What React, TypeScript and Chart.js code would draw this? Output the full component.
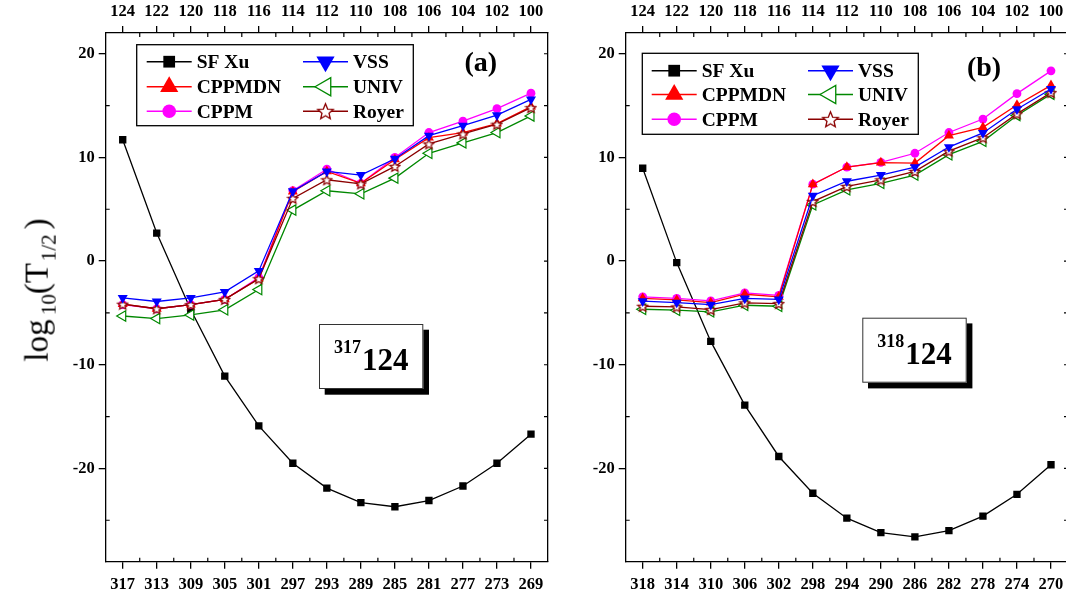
import React, { useEffect, useRef } from 'react';
import { Chart, registerables } from 'chart.js';

Chart.register(...registerables);

// ---------- data ----------
const bottomLabelsA = ['317', '313', '309', '305', '301', '297', '293', '289', '285', '281', '277', '273', '269'];
const bottomLabelsB = ['318', '314', '310', '306', '302', '298', '294', '290', '286', '282', '278', '274', '270'];
const topLabels = ['124', '122', '120', '118', '116', '114', '112', '110', '108', '106', '104', '102', '100'];
const yTickValues = [-20, -10, 0, 10, 20];
const yMinorValues = [-25, -15, -5, 5, 15];
const Y_MIN = -29;
const Y_MAX = 22;

// panel (a): 317124
const sfXuA = [11.7, 2.7, -4.7, -11.1, -15.9, -19.5, -21.9, -23.3, -23.7, -23.1, -21.7, -19.5, -16.7];
const cppmdnA = [-4.16, -4.6, -4.2, -3.7, -1.7, 6.7, 8.65, 7.5, 9.8, 11.9, 12.4, 13.26, 14.9];
const cppmA = [-4.2, -4.6, -4.2, -3.7, -1.6, 6.8, 8.87, 7.5, 10.0, 12.4, 13.5, 14.7, 16.2];
const vssA = [-3.55, -3.9, -3.55, -2.97, -0.95, 6.75, 8.65, 8.3, 9.87, 12.1, 13.07, 14.07, 15.6];
const univA = [-5.3, -5.55, -5.2, -4.7, -2.75, 4.92, 6.78, 6.49, 8.0, 10.4, 11.4, 12.4, 14.0];
const royerA = [-4.16, -4.6, -4.2, -3.7, -1.7, 6.05, 7.84, 7.45, 9.13, 11.3, 12.26, 13.2, 14.8];

// panel (b): 318124
const sfXuB = [8.95, -0.15, -7.75, -13.9, -18.85, -22.4, -24.8, -26.2, -26.6, -26.0, -24.6, -22.5, -19.65];
const cppmdnB = [-3.6, -3.75, -4.0, -3.2, -3.45, 7.4, 9.07, 9.5, 9.45, 12.1, 12.9, 15.05, 16.95];
const cppmB = [-3.45, -3.6, -3.84, -3.07, -3.3, 7.42, 9.07, 9.52, 10.4, 12.4, 13.7, 16.15, 18.35];
const vssB = [-3.87, -4.0, -4.2, -3.6, -3.7, 6.3, 7.7, 8.3, 9.07, 11.0, 12.36, 14.65, 16.6];
const univB = [-4.65, -4.74, -4.9, -4.26, -4.36, 5.42, 6.87, 7.5, 8.3, 10.26, 11.55, 14.05, 16.1];
const royerB = [-4.36, -4.42, -4.68, -4.03, -4.1, 5.74, 7.2, 7.84, 8.65, 10.6, 11.9, 14.2, 16.25];

// ---------- styles ----------
const FONT = "'Liberation Serif', 'Times New Roman', Times, serif";
const COLORS = {
  sf: '#000000',
  cppmdn: '#ff0000',
  cppm: '#ff00ff',
  vss: '#0000ff',
  univ: '#008800',
  royer: '#8b0000',
};

function makeStar(size: number, color: string, lw: number) {
  const c = document.createElement('canvas');
  c.width = size;
  c.height = size;
  const ctx = c.getContext('2d')!;
  const cx = size / 2;
  const cy = size / 2 + size * 0.04;
  const R = size / 2 - lw;
  const r = R * 0.45;
  ctx.beginPath();
  for (let i = 0; i < 10; i++) {
    const a = -Math.PI / 2 + (i * Math.PI) / 5;
    const rr = i % 2 === 0 ? R : r;
    ctx.lineTo(cx + rr * Math.cos(a), cy + rr * Math.sin(a));
  }
  ctx.closePath();
  ctx.fillStyle = '#ffffff';
  ctx.fill();
  ctx.strokeStyle = color;
  ctx.lineWidth = lw;
  ctx.stroke();
  return c;
}

type Series = {
  key: string;
  label: string;
  data: number[];
  color: string;
  style: string;
  rotation: number;
  radius: number;
  legendRadius: number;
  filled: boolean;
  order: number;
};

function buildSeries(sf: number[], cppmdn: number[], cppm: number[], vss: number[], univ: number[], royer: number[]): Series[] {
  return [
    { key: 'sf', label: 'SF Xu', data: sf, color: COLORS.sf, style: 'rect', rotation: 0, radius: 5.2, legendRadius: 8.3, filled: true, order: 6 },
    { key: 'cppmdn', label: 'CPPMDN', data: cppmdn, color: COLORS.cppmdn, style: 'triangle', rotation: 0, radius: 5.8, legendRadius: 10.5, filled: true, order: 3 },
    { key: 'cppm', label: 'CPPM', data: cppm, color: COLORS.cppm, style: 'circle', rotation: 0, radius: 4.4, legendRadius: 6.8, filled: true, order: 4 },
    { key: 'vss', label: 'VSS', data: vss, color: COLORS.vss, style: 'triangle', rotation: 180, radius: 5.8, legendRadius: 10.5, filled: true, order: 1 },
    { key: 'univ', label: 'UNIV', data: univ, color: COLORS.univ, style: 'triangle', rotation: 270, radius: 6, legendRadius: 10.5, filled: false, order: 5 },
    { key: 'royer', label: 'Royer', data: royer, color: COLORS.royer, style: 'star', rotation: 0, radius: 6, legendRadius: 8, filled: false, order: 2 },
  ];
}

const seriesA = buildSeries(sfXuA, cppmdnA, cppmA, vssA, univA, royerA);
const seriesB = buildSeries(sfXuB, cppmdnB, cppmB, vssB, univB, royerB);

function drawMarker(ctx: CanvasRenderingContext2D, s: Series, x: number, y: number, r: number, starImg: HTMLCanvasElement) {
  ctx.save();
  if (s.style === 'star') {
    ctx.drawImage(starImg, x - starImg.width / 2, y - starImg.height / 2);
    ctx.restore();
    return;
  }
  ctx.beginPath();
  if (s.style === 'rect') {
    const h = r * Math.SQRT1_2;
    ctx.rect(x - h, y - h, 2 * h, 2 * h);
  } else if (s.style === 'circle') {
    ctx.arc(x, y, r, 0, Math.PI * 2);
  } else {
    let rad = (s.rotation * Math.PI) / 180;
    for (let i = 0; i < 3; i++) {
      const px = x + Math.sin(rad) * r;
      const py = y - Math.cos(rad) * r;
      if (i === 0) ctx.moveTo(px, py);
      else ctx.lineTo(px, py);
      rad += (2 * Math.PI) / 3;
    }
    ctx.closePath();
  }
  if (s.filled) {
    ctx.fillStyle = s.color;
    ctx.fill();
  } else {
    ctx.fillStyle = '#ffffff';
    ctx.fill();
    ctx.strokeStyle = s.color;
    ctx.lineWidth = 1.3;
    ctx.stroke();
  }
  ctx.restore();
}

type Decor = {
  legendBox: [number, number, number, number];
  rows: number[];
  cols: { x0: number; x1: number; tx: number }[];
  panelLabel: { text: string; x: number; y: number };
  inset: { x: number; y: number; w: number; h: number; sup: string; main: string };
};

const decorA: Decor = {
  legendBox: [136.7, 44.7, 276.6, 81],
  rows: [61.7, 86.7, 111.2],
  cols: [
    { x0: 146.7, x1: 191.7, tx: 196.7 },
    { x0: 303, x1: 348, tx: 353 },
  ],
  panelLabel: { text: '(a)', x: 480.8, y: 70.5 },
  inset: { x: 319, y: 324, w: 104.3, h: 65, sup: '317', main: '124' },
};

const decorB: Decor = {
  legendBox: [122.3, 53.3, 276, 81],
  rows: [70.7, 94.5, 119.3],
  cols: [
    { x0: 131.7, x1: 176.7, tx: 181.7 },
    { x0: 288, x1: 333, tx: 338 },
  ],
  panelLabel: { text: '(b)', x: 464, y: 75.5 },
  inset: { x: 342.3, y: 317.7, w: 104.4, h: 65, sup: '318', main: '124' },
};

function makeDecorPlugin(decor: Decor, series: Series[], legendStar: HTMLCanvasElement) {
  return {
    id: 'decor',
    afterDraw(chart: any) {
      const ctx: CanvasRenderingContext2D = chart.ctx;
      const { left, right, top, bottom } = chart.chartArea;
      const xs = chart.scales.x;
      const ys = chart.scales.y;
      ctx.save();
      // minor / inner ticks
      ctx.strokeStyle = '#000';
      ctx.lineWidth = 1.2;
      ctx.beginPath();
      const n = xs.getLabels().length;
      for (let i = 0; i < n - 1; i++) {
        const px = (xs.getPixelForValue(i) + xs.getPixelForValue(i + 1)) / 2;
        ctx.moveTo(px, bottom);
        ctx.lineTo(px, bottom - 4);
        ctx.moveTo(px, top);
        ctx.lineTo(px, top + 4);
      }
      yMinorValues.forEach((v) => {
        const py = ys.getPixelForValue(v);
        ctx.moveTo(left, py);
        ctx.lineTo(left + 4, py);
      });
      [...yTickValues, ...yMinorValues].forEach((v) => {
        const py = ys.getPixelForValue(v);
        ctx.moveTo(right, py);
        ctx.lineTo(right - 4, py);
      });
      ctx.stroke();

      // legend box
      const [bx, by, bw, bh] = decor.legendBox;
      ctx.fillStyle = '#ffffff';
      ctx.fillRect(bx, by, bw, bh);
      ctx.strokeStyle = '#000';
      ctx.lineWidth = 1.3;
      ctx.strokeRect(bx, by, bw, bh);
      ctx.font = `bold 19.5px ${FONT}`;
      ctx.textBaseline = 'alphabetic';
      ctx.textAlign = 'left';
      series.forEach((s, idx) => {
        const col = decor.cols[idx < 3 ? 0 : 1];
        const y = decor.rows[idx % 3];
        ctx.strokeStyle = s.color;
        ctx.lineWidth = 1.5;
        ctx.beginPath();
        ctx.moveTo(col.x0, y);
        ctx.lineTo(col.x1, y);
        ctx.stroke();
        drawMarker(ctx, s, (col.x0 + col.x1) / 2, y, s.legendRadius, legendStar);
        ctx.fillStyle = '#000';
        ctx.fillText(s.label, col.tx, y + 6.5);
      });

      // panel label
      ctx.font = `bold 28px ${FONT}`;
      ctx.textAlign = 'center';
      ctx.fillStyle = '#000';
      ctx.fillText(decor.panelLabel.text, decor.panelLabel.x, decor.panelLabel.y);

      // inset box
      const ins = decor.inset;
      ctx.fillStyle = '#000';
      ctx.fillRect(ins.x + 5.7, ins.y + 5.7, ins.w, ins.h);
      ctx.fillStyle = '#fff';
      ctx.fillRect(ins.x, ins.y, ins.w, ins.h);
      ctx.strokeStyle = '#333';
      ctx.lineWidth = 1;
      ctx.strokeRect(ins.x + 0.5, ins.y + 0.5, ins.w - 1, ins.h - 1);
      ctx.textAlign = 'left';
      ctx.fillStyle = '#000';
      ctx.font = `bold 18px ${FONT}`;
      const wSup = ctx.measureText(ins.sup).width;
      ctx.font = `bold 31px ${FONT}`;
      const wMain = ctx.measureText(ins.main).width;
      const gap = 1;
      const startX = ins.x + (ins.w - (wSup + gap + wMain)) / 2;
      ctx.font = `bold 18px ${FONT}`;
      ctx.fillText(ins.sup, startX, ins.y + 29);
      ctx.font = `bold 31px ${FONT}`;
      ctx.fillText(ins.main, startX + wSup + gap, ins.y + 46.3);
      ctx.restore();
    },
  };
}

const tickFont = { family: FONT, size: 16.5, weight: 'bold' as const };

function PanelChart({ left, bottomLabels, series, decor }: { left: number; bottomLabels: string[]; series: Series[]; decor: Decor }) {
  const ref = useRef<HTMLCanvasElement>(null);
  useEffect(() => {
    const dataStar = makeStar(13, COLORS.royer, 1.2);
    const legendStar = makeStar(19, COLORS.royer, 1.3);
    const datasets = series.map((s) => ({
      label: s.label,
      data: s.data,
      xAxisID: 'x',
      yAxisID: 'y',
      order: s.order,
      borderColor: s.color,
      backgroundColor: s.color,
      borderWidth: 1.3,
      tension: 0,
      fill: false,
      pointStyle: s.style === 'star' ? dataStar : s.style,
      pointRotation: s.rotation,
      pointRadius: s.radius,
      pointHoverRadius: s.radius,
      pointBackgroundColor: s.filled ? s.color : '#ffffff',
      pointBorderColor: s.color,
      pointBorderWidth: s.filled ? 0 : 1.2,
    }));
    const gridOpts = { display: true, drawOnChartArea: false, drawTicks: true, tickLength: 7, color: '#000', lineWidth: 1.3 };
    const borderOpts = { display: true, color: '#000', width: 1.3 };
    const chart = new Chart(ref.current!, {
      type: 'line',
      data: { labels: bottomLabels, datasets: datasets as any },
      options: {
        responsive: false,
        animation: false,
        events: [],
        layout: { padding: 0 },
        plugins: { legend: { display: false }, tooltip: { enabled: false } },
        scales: {
          x: {
            type: 'category',
            position: 'bottom',
            offset: true,
            grid: gridOpts,
            border: borderOpts,
            ticks: { font: tickFont, color: '#000', padding: 6, autoSkip: false, maxRotation: 0 },
            afterFit: (s: any) => {
              s.height = 36.3;
            },
          },
          x2: {
            type: 'category',
            labels: topLabels,
            position: 'top',
            offset: true,
            grid: gridOpts,
            border: borderOpts,
            ticks: { font: tickFont, color: '#000', padding: 4, autoSkip: false, maxRotation: 0 },
            afterFit: (s: any) => {
              s.height = 33;
            },
          },
          y: {
            type: 'linear',
            position: 'left',
            min: Y_MIN,
            max: Y_MAX,
            grid: gridOpts,
            border: borderOpts,
            ticks: { font: tickFont, color: '#000', padding: 4 },
            afterBuildTicks: (s: any) => {
              s.ticks = yTickValues.map((v) => ({ value: v }));
            },
            afterFit: (s: any) => {
              s.width = 105.7;
            },
          },
          y2: {
            type: 'linear',
            position: 'right',
            min: Y_MIN,
            max: Y_MAX,
            grid: { display: false, drawTicks: false },
            border: borderOpts,
            ticks: { display: false },
            afterFit: (s: any) => {
              s.width = 12;
            },
          },
        },
      } as any,
      plugins: [makeDecorPlugin(decor, series, legendStar)],
    });
    return () => chart.destroy();
  }, []);
  return <canvas ref={ref} width={560} height={598} style={{ position: 'absolute', left, top: 0 }} />;
}

export default function App() {
  return (
    <div style={{ position: 'fixed', left: 0, top: 0, width: 1066, height: 598, overflow: 'hidden', background: '#fff' }}>
      <PanelChart left={0} bottomLabels={bottomLabelsA} series={seriesA} decor={decorA} />
      <PanelChart left={520} bottomLabels={bottomLabelsB} series={seriesB} decor={decorB} />
      <div
        style={{
          position: 'absolute',
          left: 40,
          top: 290,
          transform: 'translate(-50%, -50%) rotate(-90deg)',
          fontFamily: FONT,
          fontSize: 33,
          whiteSpace: 'nowrap',
          lineHeight: 1,
          color: '#000',
        }}
      >
        log<sub style={{ fontSize: '0.64em', marginLeft: '0.2em' }}>10</sub>(T
        <sub style={{ fontSize: '0.64em', marginLeft: '0.08em' }}>1/2</sub>
        <span style={{ marginLeft: '0.15em' }}>)</span>
      </div>
    </div>
  );
}
